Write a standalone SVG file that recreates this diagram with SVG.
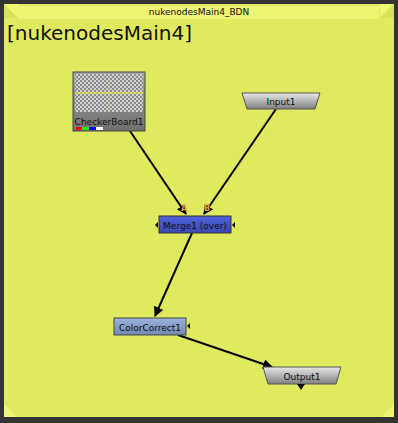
<svg xmlns="http://www.w3.org/2000/svg" width="398" height="423" viewBox="0 0 398 423">
<style>
.lbl{font-family:"DejaVu Sans",sans-serif;font-size:9px;fill:#111;text-anchor:middle}
.edge{stroke:#000;stroke-width:2;fill:none;marker-end:url(#ah)}
.io{font-family:"DejaVu Sans",sans-serif;font-size:8px;font-weight:bold;fill:#e8a030}
</style>
<defs>
<marker id="ah" viewBox="0 0 10 10" refX="9" refY="5" markerWidth="5" markerHeight="5" orient="auto" markerUnits="strokeWidth">
<path d="M0,0 L10,5 L0,10 z" fill="#000"/>
</marker>
<linearGradient id="gray" x1="0" y1="0" x2="0" y2="1"><stop offset="0" stop-color="#e8e8e8"/><stop offset="1" stop-color="#808080"/></linearGradient>
<linearGradient id="blue" x1="0" y1="0" x2="0" y2="1"><stop offset="0" stop-color="#5060d8"/><stop offset="1" stop-color="#3a48b0"/></linearGradient>
<linearGradient id="cc" x1="0" y1="0" x2="0" y2="1"><stop offset="0" stop-color="#9cb4dc"/><stop offset="1" stop-color="#7088b4"/></linearGradient>
<linearGradient id="cbl" x1="0" y1="0" x2="0" y2="1"><stop offset="0" stop-color="#a8a8a8"/><stop offset="1" stop-color="#707070"/></linearGradient>
<pattern id="chk" width="4" height="4" patternUnits="userSpaceOnUse"><rect width="4" height="4" fill="#d0d0d0"/><rect width="2" height="2" fill="#8a8a8a"/><rect x="2" y="2" width="2" height="2" fill="#8a8a8a"/></pattern>
</defs>
<rect width="398" height="423" fill="#333333"/>
<g id="backdrop">
<rect x="4" y="4" width="390" height="413" fill="#e0ea5e"/>
<rect x="18" y="6" width="361" height="13" fill="#eef473"/>
<polygon points="4,4 18,4 18,18" fill="#eef473"/>
<polygon points="4,4 4,18 18,18" fill="#d8e258"/>
<polygon points="394,4 380,4 380,18" fill="#eef473"/>
<polygon points="394,4 394,18 380,18" fill="#d8e258"/>
<polygon points="4,417 4,404 17,417" fill="#eef473"/>
<polygon points="394,417 394,404 381,417" fill="#eef473"/>
<text x="199" y="15" class="lbl" style="font-size:9px">nukenodesMain4_BDN</text>
<text x="7" y="40" style="font-family:'DejaVu Sans',sans-serif;font-size:20px;fill:#111">[nukenodesMain4]</text>
</g>
<g id="connectors">
<line class="edge" x1="130" y1="131" x2="186" y2="214"/>
<line class="edge" x1="276" y1="109" x2="204" y2="214"/>
<line class="edge" x1="192" y1="233" x2="155" y2="316"/>
<line class="edge" x1="178" y1="335" x2="272" y2="367"/>
<text class="io" x="181" y="211">A</text>
<text class="io" x="204" y="211">B</text>
</g>
<g id="CheckerBoard1">
<rect x="73" y="72" width="72" height="59" fill="url(#cbl)" stroke="#444" stroke-width="1"/>
<rect x="75" y="74" width="68" height="38" fill="url(#chk)"/>
<line x1="75" y1="93" x2="143" y2="93" stroke="#f0f020" stroke-width="1"/>
<line x1="109" y1="74" x2="109" y2="112" stroke="#c8c890" stroke-width="0.5"/>
<text x="109" y="125" class="lbl">CheckerBoard1</text>
<rect x="76" y="127" width="6" height="3" fill="#ff0000"/>
<rect x="82" y="127" width="7" height="3" fill="#00ff00"/>
<rect x="89" y="127" width="7" height="3" fill="#0000ff"/>
<rect x="96" y="127" width="7" height="3" fill="#ffffff"/>
</g>
<g id="Input1">
<polygon points="242,93 320,93 315,109 247,109" fill="url(#gray)" stroke="#555" stroke-width="1"/>
<text x="281" y="105" class="lbl">Input1</text>
</g>
<g id="Merge1">
<rect x="159" y="216" width="72" height="17" fill="url(#blue)" stroke="#333" stroke-width="1"/>
<text x="195" y="228.5" class="lbl">Merge1 (over)</text>
<polygon points="155,225 158,222 158,228" fill="#000"/>
<polygon points="232,225 235,222 235,228" fill="#000"/>
</g>
<g id="ColorCorrect1">
<rect x="114" y="318" width="72" height="17" fill="url(#cc)" stroke="#444" stroke-width="1"/>
<text x="150" y="330.5" class="lbl">ColorCorrect1</text>
<polygon points="187,326 190,323 190,329" fill="#000"/>
</g>
<g id="Output1">
<polygon points="263,367 341,367 336,384 268,384" fill="url(#gray)" stroke="#555" stroke-width="1"/>
<text x="302" y="380" class="lbl">Output1</text>
<polygon points="297,384 305,384 301,390" fill="#000"/>
</g>
</svg>
